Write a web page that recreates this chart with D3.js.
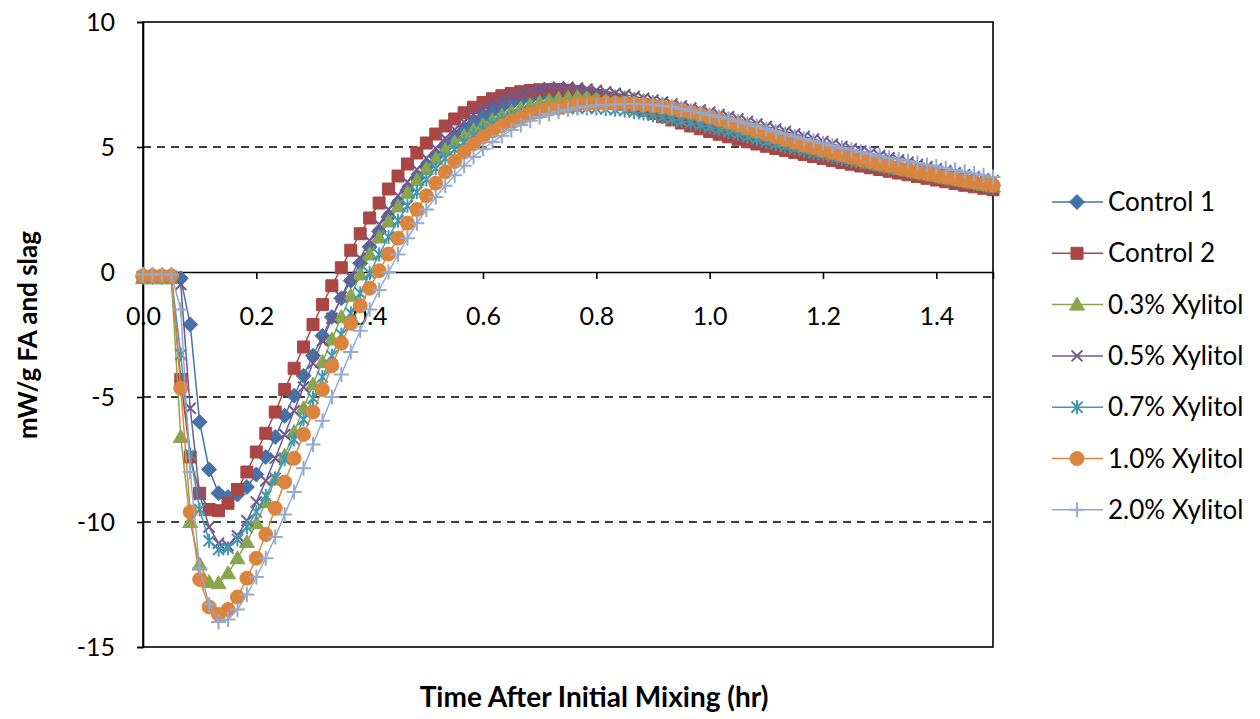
<!DOCTYPE html>
<html>
<head>
<meta charset="utf-8">
<script src="https://cdn.jsdelivr.net/npm/d3@7"></script>
<style>
  body { margin: 0; background: #ffffff; }
  svg { display: block; }
  text { font-family: Lato, "Open Sans", sans-serif; fill: #000; }
</style>
</head>
<body>
<svg id="chart" width="1260" height="719"></svg>
<script>
// Sampling times, minutes after initial mixing (plotted in hours)
const minutes = [0,1,2,3,4,5,6,7,8,9,10,11,12,13,14,15,16,17,18,19,20,21,22,23,24,25,26,27,28,29,30,
  31,32,33,34,35,36,37,38,39,40,41,42,43,44,45,46,47,48,49,50,51,52,53,54,55,56,57,58,59,60,
  61,62,63,64,65,66,67,68,69,70,71,72,73,74,75,76,77,78,79,80,81,82,83,84,85,86,87,88,89,90];

// Heat flow, mW/g FA and slag
const control1 = [-0.2,-0.2,-0.2,-0.2,-0.25,-2.1,-6.0,-7.9,-8.85,-9.0,-8.9,-8.6,-8.1,-7.4,-6.6,-5.75,
  -4.95,-4.15,-3.35,-2.55,-1.8,-1.05,-0.35,0.35,1.0,1.62,2.2,2.75,3.27,3.75,4.2,4.62,5.0,5.35,5.67,5.95,
  6.2,6.42,6.6,6.75,6.87,6.96,7.03,7.07,7.09,7.09,7.07,7.03,6.97,6.9,6.81,6.71,6.6,6.49,6.38,6.27,
  6.16,6.05,5.95,5.85,5.75,5.65,5.55,5.45,5.35,5.26,5.17,5.08,4.99,4.91,4.83,4.75,4.67,4.59,4.51,4.44,
  4.37,4.3,4.23,4.16,4.09,4.02,3.95,3.88,3.81,3.75,3.69,3.63,3.57,3.51,3.45];

const control2 = [-0.2,-0.2,-0.2,-0.2,-4.3,-7.4,-8.85,-9.5,-9.55,-9.25,-8.7,-8.0,-7.2,-6.45,-5.6,-4.7,
  -3.85,-3.0,-2.1,-1.3,-0.55,0.17,0.87,1.53,2.16,2.76,3.32,3.84,4.32,4.76,5.16,5.52,5.84,6.12,6.37,6.59,
  6.78,6.93,7.05,7.14,7.21,7.26,7.29,7.3,7.3,7.27,7.22,7.15,7.06,6.96,6.85,6.73,6.6,6.47,6.34,6.21,
  6.08,5.96,5.84,5.73,5.62,5.51,5.41,5.31,5.21,5.12,5.03,4.94,4.86,4.78,4.7,4.62,4.54,4.46,4.38,4.31,
  4.24,4.17,4.1,4.03,3.96,3.89,3.82,3.75,3.68,3.61,3.54,3.47,3.41,3.35,3.29];

const xylitol03 = [-0.25,-0.25,-0.25,-0.25,-6.6,-10.0,-11.7,-12.4,-12.45,-12.05,-11.45,-10.8,-10.05,-9.2,
  -8.3,-7.35,-6.4,-5.45,-4.5,-3.6,-2.7,-1.8,-0.95,-0.1,0.7,1.38,2.02,2.62,3.17,3.67,4.12,4.52,4.88,5.18,
  5.44,5.67,5.88,6.07,6.25,6.41,6.55,6.67,6.77,6.86,6.93,6.98,7.01,7.03,7.03,7.02,7.0,6.96,6.91,6.85,
  6.78,6.7,6.61,6.52,6.42,6.3,6.18,6.07,5.95,5.83,5.71,5.59,5.47,5.36,5.25,5.14,5.04,4.94,4.84,4.74,
  4.65,4.56,4.47,4.38,4.3,4.22,4.14,4.06,3.98,3.91,3.84,3.77,3.7,3.63,3.56,3.49,3.42];

const xylitol05 = [-0.2,-0.2,-0.2,-0.2,-0.5,-5.45,-8.9,-10.2,-10.85,-10.95,-10.55,-9.95,-9.2,-8.35,-7.45,
  -6.5,-5.55,-4.6,-3.65,-2.75,-1.85,-1.0,-0.2,0.55,1.25,1.9,2.5,3.05,3.6,4.1,4.55,4.95,5.35,5.7,6.0,6.3,
  6.55,6.75,6.93,7.07,7.18,7.27,7.33,7.37,7.39,7.39,7.36,7.32,7.27,7.21,7.15,7.09,7.02,6.95,6.88,6.8,
  6.72,6.64,6.56,6.48,6.39,6.3,6.21,6.12,6.02,5.92,5.82,5.72,5.62,5.52,5.42,5.32,5.22,5.12,5.02,4.93,
  4.84,4.75,4.66,4.57,4.48,4.39,4.3,4.21,4.13,4.05,3.97,3.89,3.81,3.73,3.65];

const xylitol07 = [-0.2,-0.2,-0.2,-0.2,-3.3,-7.3,-9.5,-10.75,-11.1,-11.05,-10.7,-10.2,-9.6,-8.95,-8.25,
  -7.5,-6.7,-5.9,-5.05,-4.2,-3.35,-2.5,-1.65,-0.85,-0.05,0.7,1.4,2.05,2.65,3.2,3.7,4.15,4.55,4.9,5.2,
  5.47,5.7,5.9,6.07,6.2,6.3,6.38,6.44,6.49,6.52,6.54,6.55,6.55,6.54,6.52,6.49,6.45,6.4,6.34,6.27,6.2,
  6.12,6.04,5.96,5.88,5.79,5.7,5.61,5.51,5.41,5.31,5.21,5.12,5.03,4.94,4.85,4.77,4.69,4.61,4.53,4.45,
  4.38,4.31,4.24,4.17,4.1,4.03,3.96,3.89,3.82,3.75,3.68,3.61,3.54,3.47,3.4];

const xylitol10 = [-0.15,-0.15,-0.15,-0.15,-4.65,-9.6,-12.3,-13.4,-13.7,-13.5,-13.0,-12.25,-11.45,-10.5,
  -9.45,-8.4,-7.45,-6.5,-5.6,-4.7,-3.75,-2.85,-2.05,-1.35,-0.65,0.05,0.72,1.35,1.95,2.5,3.05,3.55,4.0,
  4.42,4.8,5.12,5.4,5.64,5.85,6.03,6.18,6.31,6.42,6.51,6.58,6.64,6.69,6.72,6.74,6.75,6.75,6.74,6.72,
  6.69,6.65,6.6,6.54,6.47,6.39,6.3,6.2,6.1,5.99,5.88,5.77,5.65,5.53,5.41,5.3,5.19,5.08,4.98,4.88,4.78,
  4.68,4.59,4.5,4.41,4.33,4.25,4.17,4.09,4.01,3.94,3.87,3.8,3.73,3.66,3.6,3.54,3.48];

const xylitol20 = [-0.1,-0.1,-0.1,-0.1,-1.5,-8.0,-11.85,-13.3,-14.0,-13.9,-13.5,-12.9,-12.2,-11.45,-10.6,
  -9.7,-8.8,-7.85,-6.9,-5.95,-5.0,-4.1,-3.2,-2.35,-1.5,-0.72,0.0,0.7,1.35,1.95,2.5,3.0,3.45,3.87,4.25,
  4.6,4.92,5.2,5.45,5.68,5.88,6.05,6.2,6.32,6.42,6.5,6.57,6.62,6.66,6.69,6.71,6.72,6.72,6.71,6.69,6.64,
  6.6,6.53,6.45,6.36,6.28,6.2,6.12,6.03,5.93,5.83,5.72,5.62,5.52,5.42,5.33,5.24,5.15,5.06,4.97,4.89,
  4.81,4.73,4.65,4.57,4.5,4.43,4.36,4.29,4.22,4.15,4.08,4.01,3.94,3.87,3.8];

const seriesNames = ["Control 1", "Control 2", "0.3% Xylitol", "0.5% Xylitol",
                     "0.7% Xylitol", "1.0% Xylitol", "2.0% Xylitol"];
const seriesValues = [control1, control2, xylitol03, xylitol05, xylitol07, xylitol10, xylitol20];

const xTicks = [0, 0.2, 0.4, 0.6, 0.8, 1.0, 1.2, 1.4];
const yTicks = [-15, -10, -5, 0, 5, 10];
const gridLines = [-10, -5, 5];

// ---- styling ----
const colors  = ["#4572A7", "#AA4643", "#89A54E", "#71588F", "#4198AF", "#DB843D", "#93A9CF"];
const markers = ["diamond", "square", "triangle", "cross", "asterisk", "circle", "plus"];

const svg = d3.select("#chart");
const plot = { left: 143, right: 993, top: 22, bottom: 647 };

const x = d3.scaleLinear().domain([0, 1.5]).range([plot.left, plot.right]);
const y = d3.scaleLinear().domain([-15, 10]).range([plot.bottom, plot.top]);

// marker glyphs, centred on the point
function drawMarker(g, kind, color) {
  let p;
  switch (kind) {
    case "diamond":  p = g.append("path").attr("d", "M0,-7.5L7.5,0L0,7.5L-7.5,0Z"); break;
    case "square":   p = g.append("path").attr("d", "M-6,-6H6V6H-6Z"); break;
    case "triangle": p = g.append("path").attr("d", "M0,-7.5L7.5,5.5L-7.5,5.5Z"); break;
    case "circle":   p = g.append("circle").attr("r", 7); break;
    case "cross":    p = g.append("path").attr("d", "M-5.5,-5.5L5.5,5.5M-5.5,5.5L5.5,-5.5"); break;
    case "asterisk": p = g.append("path").attr("d", "M-5.5,-5.5L5.5,5.5M-5.5,5.5L5.5,-5.5M0,-7V7"); break;
    case "plus":     p = g.append("path").attr("d", "M-7.5,0H7.5M0,-7.5V7.5"); break;
  }
  if (kind === "cross" || kind === "asterisk" || kind === "plus") {
    p.attr("fill", "none").attr("stroke", color).attr("stroke-width", 2);
  } else {
    p.attr("fill", color).attr("stroke", color).attr("stroke-width", 1);
  }
}

// gridlines
svg.append("g").selectAll("line").data(gridLines).join("line")
  .attr("x1", plot.left).attr("x2", plot.right)
  .attr("y1", d => y(d)).attr("y2", d => y(d))
  .attr("stroke", "#000").attr("stroke-width", 1.3).attr("stroke-dasharray", "8,6");

// plot area border
svg.append("rect")
  .attr("x", plot.left).attr("y", plot.top)
  .attr("width", plot.right - plot.left).attr("height", plot.bottom - plot.top)
  .attr("fill", "none").attr("stroke", "#000").attr("stroke-width", 1.6);

// y axis
const yAxis = svg.append("g").attr("transform", `translate(${plot.left},0)`)
  .call(d3.axisLeft(y).tickValues(yTicks).tickSize(6).tickPadding(22).tickFormat(d => String(d)));
yAxis.select(".domain").attr("stroke", "#000").attr("stroke-width", 1.6);
yAxis.selectAll(".tick line").attr("stroke", "#000").attr("stroke-width", 1.6);
yAxis.selectAll("text").attr("font-size", 25).attr("font-family", "Lato, sans-serif").attr("fill", "#000");

// x axis crossing at zero
const xAxis = svg.append("g").attr("transform", `translate(0,${y(0)})`)
  .call(d3.axisBottom(x).tickValues(xTicks).tickSize(7).tickPadding(28).tickFormat(d3.format(".1f")));
xAxis.select(".domain").attr("stroke", "#000").attr("stroke-width", 1.6);
xAxis.selectAll(".tick line").attr("stroke", "#000").attr("stroke-width", 1.6);
xAxis.selectAll("text").attr("font-size", 25).attr("font-family", "Lato, sans-serif").attr("fill", "#000");

// series: line then markers
const line = d3.line().x((d, i) => x(minutes[i] / 60)).y(d => y(d));
seriesValues.forEach((vals, s) => {
  const g = svg.append("g").attr("class", "series");
  g.append("path").datum(vals).attr("d", line)
    .attr("fill", "none").attr("stroke", colors[s]).attr("stroke-width", 1.5);
  g.selectAll("g.pt").data(vals).join("g").attr("class", "pt")
    .attr("transform", (d, i) => `translate(${x(minutes[i] / 60)},${y(d)})`)
    .each(function () { drawMarker(d3.select(this), markers[s], colors[s]); });
});

// axis titles
svg.append("text").attr("x", 594).attr("y", 707).attr("text-anchor", "middle")
  .attr("font-size", 28).attr("font-weight", "bold").text("Time After Initial Mixing (hr)");
svg.append("text").attr("transform", "translate(37,335) rotate(-90)").attr("text-anchor", "middle")
  .attr("font-size", 26).attr("font-weight", "bold").text("mW/g FA and slag");

// legend
const legend = svg.append("g");
seriesNames.forEach((name, s) => {
  const ly = 202 + s * 51.3;
  const g = legend.append("g").attr("transform", `translate(0,${ly})`);
  g.append("line").attr("x1", 1052).attr("x2", 1103).attr("y1", 0).attr("y2", 0)
    .attr("stroke", colors[s]).attr("stroke-width", 1.5);
  const m = g.append("g").attr("transform", "translate(1077,0)");
  drawMarker(m, markers[s], colors[s]);
  g.append("text").attr("x", 1108).attr("y", 0).attr("dy", "0.35em")
    .attr("font-size", 26).text(name);
});
</script>
</body>
</html>
